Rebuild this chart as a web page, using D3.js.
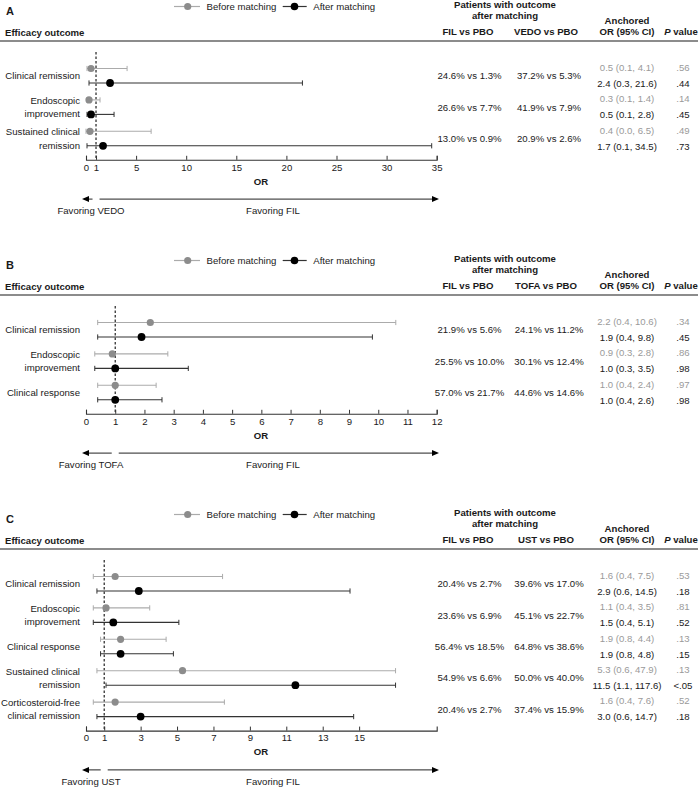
<!DOCTYPE html>
<html>
<head>
<meta charset="utf-8">
<script src="https://cdn.jsdelivr.net/npm/d3@7/dist/d3.min.js"></script>
<style>
  html, body { margin: 0; padding: 0; background: #fff; }
  svg { display: block; }
</style>
</head>
<body>
<svg id="chart" width="700" height="788"></svg>
<script>
// ---------------- DATA ----------------
// Panel A: FIL vs VEDO
const A_outcomes = [["Clinical remission"], ["Endoscopic", "improvement"], ["Sustained clinical", "remission"]];
const A_beforeOR = [0.5, 0.3, 0.4];
const A_beforeLo = [0.1, 0.1, 0.0];
const A_beforeHi = [4.1, 1.4, 6.5];
const A_afterOR = [2.4, 0.5, 1.7];
const A_afterLo = [0.3, 0.1, 0.1];
const A_afterHi = [21.6, 2.8, 34.5];
const A_filRates = ["24.6% vs 1.3%", "26.6% vs 7.7%", "13.0% vs 0.9%"];
const A_compRates = ["37.2% vs 5.3%", "41.9% vs 7.9%", "20.9% vs 2.6%"];
const A_pBefore = [".56", ".14", ".49"];
const A_pAfter = [".44", ".45", ".73"];
const A_ticks = [0, 1, 5, 10, 15, 20, 25, 30, 35];
const A_domain = [0, 35];

// Panel B: FIL vs TOFA
const B_outcomes = [["Clinical remission"], ["Endoscopic", "improvement"], ["Clinical response"]];
const B_beforeOR = [2.2, 0.9, 1.0];
const B_beforeLo = [0.4, 0.3, 0.4];
const B_beforeHi = [10.6, 2.8, 2.4];
const B_afterOR = [1.9, 1.0, 1.0];
const B_afterLo = [0.4, 0.3, 0.4];
const B_afterHi = [9.8, 3.5, 2.6];
const B_filRates = ["21.9% vs 5.6%", "25.5% vs 10.0%", "57.0% vs 21.7%"];
const B_compRates = ["24.1% vs 11.2%", "30.1% vs 12.4%", "44.6% vs 14.6%"];
const B_pBefore = [".34", ".86", ".97"];
const B_pAfter = [".45", ".98", ".98"];
const B_ticks = [0, 1, 2, 3, 4, 5, 6, 7, 8, 9, 10, 11, 12];
const B_domain = [0, 12];

// Panel C: FIL vs UST
const C_outcomes = [["Clinical remission"], ["Endoscopic", "improvement"], ["Clinical response"],
                    ["Sustained clinical", "remission"], ["Corticosteroid-free", "clinical remission"]];
const C_beforeOR = [1.6, 1.1, 1.9, 5.3, 1.6];
const C_beforeLo = [0.4, 0.4, 0.8, 0.6, 0.4];
const C_beforeHi = [7.5, 3.5, 4.4, 47.9, 7.6];
const C_afterOR = [2.9, 1.5, 1.9, 11.5, 3.0];
const C_afterLo = [0.6, 0.4, 0.8, 1.1, 0.6];
const C_afterHi = [14.5, 5.1, 4.8, 117.6, 14.7];
const C_filRates = ["20.4% vs 2.7%", "23.6% vs 6.9%", "56.4% vs 18.5%", "54.9% vs 6.6%", "20.4% vs 2.7%"];
const C_compRates = ["39.6% vs 17.0%", "45.1% vs 22.7%", "64.8% vs 38.6%", "50.0% vs 40.0%", "37.4% vs 15.9%"];
const C_pBefore = [".53", ".81", ".13", ".13", ".52"];
const C_pAfter = [".18", ".52", ".15", "<.05", ".18"];
const C_ticks = [0, 1, 3, 5, 7, 9, 11, 13, 15];
const C_domain = [0, 19.26];
const C_clipMax = 17;

// ---------------- DRAWING ----------------
const FONT = "'Liberation Sans', Arial, Helvetica, sans-serif";
const GRAY_DOT = "#8c8c8c", GRAY_LINE = "#ababab", GRAY_TEXT = "#9a9a9a";
const BLACK_LINE = "#333", TEXT = "#1a1a1a";
const FS = 9.6;

const svg = d3.select("#chart");

function fmtOR(o, l, h) {
  return `${o.toFixed(1)} (${l.toFixed(1)}, ${h.toFixed(1)})`;
}

function drawPanel(p) {
  const g = svg.append("g").attr("font-family", FONT);
  const hl = p.hl;
  const n = p.outcomes.length;
  const rowStep = 31.4;
  const x = d3.scaleLinear().domain(p.domain).range([86, 436.7]);
  const grayY = i => hl + 27.5 + i * rowStep;
  const blackY = i => hl + 42 + i * rowStep;
  const axisY = hl + 42 + (n - 1) * rowStep + 14;

  // panel letter
  g.append("text").attr("x", 6).attr("y", hl - 30).attr("dy", "0.35em")
    .attr("font-size", 11).attr("font-weight", "bold").attr("fill", TEXT).text(p.letter);

  // legend
  const ly = hl - 34.5;
  g.append("line").attr("x1", 174).attr("x2", 200).attr("y1", ly).attr("y2", ly)
    .attr("stroke", GRAY_LINE).attr("stroke-width", 1.2);
  g.append("circle").attr("cx", 187.7).attr("cy", ly).attr("r", 3.6).attr("fill", GRAY_DOT);
  g.append("text").attr("x", 206.5).attr("y", ly).attr("dy", "0.35em")
    .attr("font-size", FS).attr("fill", TEXT).text("Before matching");
  g.append("line").attr("x1", 282.7).attr("x2", 306.7).attr("y1", ly).attr("y2", ly)
    .attr("stroke", BLACK_LINE).attr("stroke-width", 1.2);
  g.append("circle").attr("cx", 294.5).attr("cy", ly).attr("r", 3.8).attr("fill", "#000");
  g.append("text").attr("x", 313.3).attr("y", ly).attr("dy", "0.35em")
    .attr("font-size", FS).attr("fill", TEXT).text("After matching");

  // headers
  const hdr = (tx, ty, t, anchor) => g.append("text").attr("x", tx).attr("y", ty).attr("dy", "0.35em")
    .attr("text-anchor", anchor || "middle").attr("font-size", FS).attr("font-weight", "bold")
    .attr("fill", TEXT).text(t);
  hdr(5, hl - 8.5, "Efficacy outcome", "start");
  hdr(505, hl - 36, "Patients with outcome");
  hdr(505, hl - 25, "after matching");
  hdr(468, hl - 9, "FIL vs PBO");
  hdr(546, hl - 9, p.comp + " vs PBO");
  hdr(627, hl - 20, "Anchored");
  hdr(627, hl - 9, "OR (95% CI)");
  const pv = hdr(681, hl - 9, "");
  pv.append("tspan").attr("font-style", "italic").text("P");
  pv.append("tspan").text(" value");

  g.append("line").attr("x1", 0).attr("x2", 698).attr("y1", hl).attr("y2", hl)
    .attr("stroke", "#666").attr("stroke-width", 1.4);

  // reference line at OR = 1
  g.append("line").attr("x1", x(1)).attr("x2", x(1)).attr("y1", hl + 11).attr("y2", axisY)
    .attr("stroke", "#222").attr("stroke-width", 1.2).attr("stroke-dasharray", "2.5,2");

  // rows
  p.outcomes.forEach((lab, i) => {
    const gy = grayY(i), by = blackY(i), mid = (gy + by) / 2;
    // label
    if (lab.length === 1) {
      g.append("text").attr("x", 80).attr("y", mid).attr("dy", "0.35em").attr("text-anchor", "end")
        .attr("font-size", FS).attr("fill", TEXT).text(lab[0]);
    } else {
      g.append("text").attr("x", 80).attr("y", gy + 0.5).attr("dy", "0.35em").attr("text-anchor", "end")
        .attr("font-size", FS).attr("fill", TEXT).text(lab[0]);
      g.append("text").attr("x", 80).attr("y", by - 0.5).attr("dy", "0.35em").attr("text-anchor", "end")
        .attr("font-size", FS).attr("fill", TEXT).text(lab[1]);
    }
    const clip = v => Math.min(v, p.clipMax !== undefined ? p.clipMax : p.domain[1]);
    const series = [
      { y: gy, or: p.bOR[i], lo: p.bLo[i], hi: p.bHi[i], line: GRAY_LINE, dot: GRAY_DOT, r: 3.6 },
      { y: by, or: p.aOR[i], lo: p.aLo[i], hi: p.aHi[i], line: BLACK_LINE, dot: "#000", r: 3.9 }
    ];
    series.forEach(s => {
      const x1 = x(s.lo), x2 = x(clip(s.hi));
      g.append("line").attr("x1", x1).attr("x2", x2).attr("y1", s.y).attr("y2", s.y)
        .attr("stroke", s.line).attr("stroke-width", 1.1);
      [x1, x2].forEach(cx => g.append("line").attr("x1", cx).attr("x2", cx)
        .attr("y1", s.y - 2.6).attr("y2", s.y + 2.6).attr("stroke", s.line).attr("stroke-width", 1));
      g.append("circle").attr("cx", x(s.or)).attr("cy", s.y).attr("r", s.r).attr("fill", s.dot);
    });
    // table text
    g.append("text").attr("x", 469.5).attr("y", mid).attr("dy", "0.35em").attr("text-anchor", "middle")
      .attr("font-size", FS).attr("fill", TEXT).text(p.fil[i]);
    g.append("text").attr("x", 549).attr("y", mid).attr("dy", "0.35em").attr("text-anchor", "middle")
      .attr("font-size", FS).attr("fill", TEXT).text(p.compR[i]);
    g.append("text").attr("x", 627).attr("y", gy - 1).attr("dy", "0.35em").attr("text-anchor", "middle")
      .attr("font-size", FS).attr("fill", GRAY_TEXT).text(fmtOR(p.bOR[i], p.bLo[i], p.bHi[i]));
    g.append("text").attr("x", 627).attr("y", by + 0.5).attr("dy", "0.35em").attr("text-anchor", "middle")
      .attr("font-size", FS).attr("fill", TEXT).text(fmtOR(p.aOR[i], p.aLo[i], p.aHi[i]));
    g.append("text").attr("x", 683).attr("y", gy - 1).attr("dy", "0.35em").attr("text-anchor", "middle")
      .attr("font-size", FS).attr("fill", GRAY_TEXT).text(p.pB[i]);
    g.append("text").attr("x", 683).attr("y", by + 0.5).attr("dy", "0.35em").attr("text-anchor", "middle")
      .attr("font-size", FS).attr("fill", TEXT).text(p.pA[i]);
  });

  // axis
  const axis = d3.axisBottom(x).tickValues(p.ticks).tickFormat(d3.format("d"))
    .tickSizeInner(-4).tickSizeOuter(-4).tickPadding(4);
  const ag = g.append("g").attr("transform", `translate(0,${axisY})`).call(axis);
  ag.select(".domain").attr("stroke", "#333").attr("stroke-width", 1.1);
  ag.selectAll(".tick line").attr("stroke", "#333").attr("stroke-width", 1);
  ag.selectAll(".tick text").attr("font-size", FS).attr("font-family", FONT).attr("fill", TEXT);
  g.append("text").attr("x", 261).attr("y", axisY + 21.5).attr("dy", "0.35em").attr("text-anchor", "middle")
    .attr("font-size", FS).attr("font-weight", "bold").attr("fill", TEXT).text("OR");

  // favoring arrows
  const ay = axisY + 39.3;
  const x1px = x(1);
  const arrow = (from, to) => {
    const dir = to > from ? 1 : -1;
    g.append("line").attr("x1", from).attr("x2", to - dir * 5).attr("y1", ay).attr("y2", ay)
      .attr("stroke", "#222").attr("stroke-width", 1);
    g.append("path").attr("d", `M${to},${ay} L${to - dir * 7},${ay - 3} L${to - dir * 7},${ay + 3} Z`)
      .attr("fill", "#000");
  };
  arrow(x1px - 3.5, 82);
  arrow(x1px + 3.5, 439);
  g.append("text").attr("x", 91).attr("y", ay + 12).attr("dy", "0.35em").attr("text-anchor", "middle")
    .attr("font-size", FS).attr("fill", TEXT).text("Favoring " + p.comp);
  g.append("text").attr("x", 273).attr("y", ay + 12).attr("dy", "0.35em").attr("text-anchor", "middle")
    .attr("font-size", FS).attr("fill", TEXT).text("Favoring FIL");
}

drawPanel({ letter: "A", hl: 41, comp: "VEDO", outcomes: A_outcomes,
  bOR: A_beforeOR, bLo: A_beforeLo, bHi: A_beforeHi, aOR: A_afterOR, aLo: A_afterLo, aHi: A_afterHi,
  fil: A_filRates, compR: A_compRates, pB: A_pBefore, pA: A_pAfter, ticks: A_ticks, domain: A_domain });
drawPanel({ letter: "B", hl: 295, comp: "TOFA", outcomes: B_outcomes,
  bOR: B_beforeOR, bLo: B_beforeLo, bHi: B_beforeHi, aOR: B_afterOR, aLo: B_afterLo, aHi: B_afterHi,
  fil: B_filRates, compR: B_compRates, pB: B_pBefore, pA: B_pAfter, ticks: B_ticks, domain: B_domain });
drawPanel({ letter: "C", hl: 549, comp: "UST", outcomes: C_outcomes,
  bOR: C_beforeOR, bLo: C_beforeLo, bHi: C_beforeHi, aOR: C_afterOR, aLo: C_afterLo, aHi: C_afterHi,
  fil: C_filRates, compR: C_compRates, pB: C_pBefore, pA: C_pAfter, ticks: C_ticks, domain: C_domain,
  clipMax: C_clipMax });
</script>
</body>
</html>
